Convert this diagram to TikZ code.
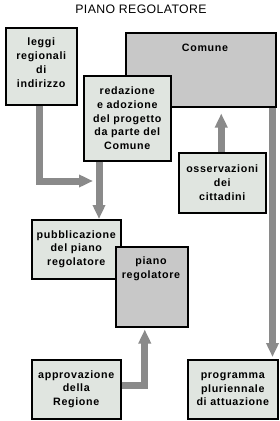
\documentclass[tikz,border=0pt]{standalone}
\usepackage{fontspec}
\setmainfont{Liberation Sans}
\usetikzlibrary{arrows.meta}
\definecolor{boxlight}{HTML}{E0E5E0}
\definecolor{boxdark}{HTML}{C8C8C8}
\definecolor{arrgray}{HTML}{8A8A8A}
\tikzset{
 box/.style={draw=black, line width=1.5pt, anchor=north west, inner sep=0pt},
 lightbox/.style={box, fill=boxlight},
 darkbox/.style={box, fill=boxdark},
 txt/.style={font=\bfseries\fontsize{10.7}{13.8}\selectfont\addfontfeatures{LetterSpace=6}, align=center, inner sep=0pt},
 arr/.style={draw=arrgray, line width=7pt, line join=miter, -{Triangle[length=14pt,width=12pt]}},
 ttl/.style={font=\fontsize{12.3}{14}\selectfont\addfontfeatures{LetterSpace=3}, inner sep=0pt}
}
\begin{document}
\begin{tikzpicture}[x=1pt,y=-1pt]
\useasboundingbox[fill=white] (0,0) rectangle (280,421);
\node[ttl] (title) at (141,9) {PIANO REGOLATORE};
% boxes
\node[lightbox, minimum width=71pt, minimum height=77pt] (leggi) at (5,27) {};
\node[txt] (leggitxt) at ([yshift=3.5pt]leggi.center) {leggi\\regionali\\di\\indirizzo};
\node[darkbox, minimum width=150pt, minimum height=74pt] (comune) at (125,32) {};
\node[txt] (comunetxt) at (205,48) {Comune};
\node[lightbox, minimum width=87pt, minimum height=85pt, txt] (redaz) at (83,75) {redazione\\e adozione\\del progetto\\da parte del\\Comune};
\node[lightbox, minimum width=87pt, minimum height=60pt, txt] (oss) at (178,152) {osservazioni\\dei\\cittadini};
\node[lightbox, minimum width=89pt, minimum height=59pt, txt] (pub) at (31,219) {pubblicazione\\del piano\\regolatore};
\node[darkbox, minimum width=72pt, minimum height=80pt] (piano) at (115,246) {};
\node[txt] (pianotxt) at (151,269) {piano\\regolatore};
\node[lightbox, minimum width=89pt, minimum height=59pt, txt] (approv) at (31,359) {approvazione\\della\\Regione};
\node[lightbox, minimum width=90pt, minimum height=59pt, txt] (prog) at (187,359) {programma\\pluriennale\\di attuazione};
% connectors
\coordinate (j) at (93,181);
\draw[arr] ([xshift=-1.5pt]leggi.south) |- (j);
\draw[arr] ([xshift=16pt]redaz.south west) -- ([xshift=16pt]redaz.south west |- pub.north);
\draw[arr] ([xshift=-1pt]oss.north) -- ([xshift=-1pt,yshift=-6pt]oss.north |- comune.south);
\draw[arr] ([xshift=-4pt]comune.south east) -- ([xshift=-4pt,yshift=2pt]comune.south east |- prog.north);
\draw[arr] ([yshift=3.5pt]approv.east) -| ([xshift=-7pt,yshift=-2pt]piano.south);
\end{tikzpicture}
\end{document}
